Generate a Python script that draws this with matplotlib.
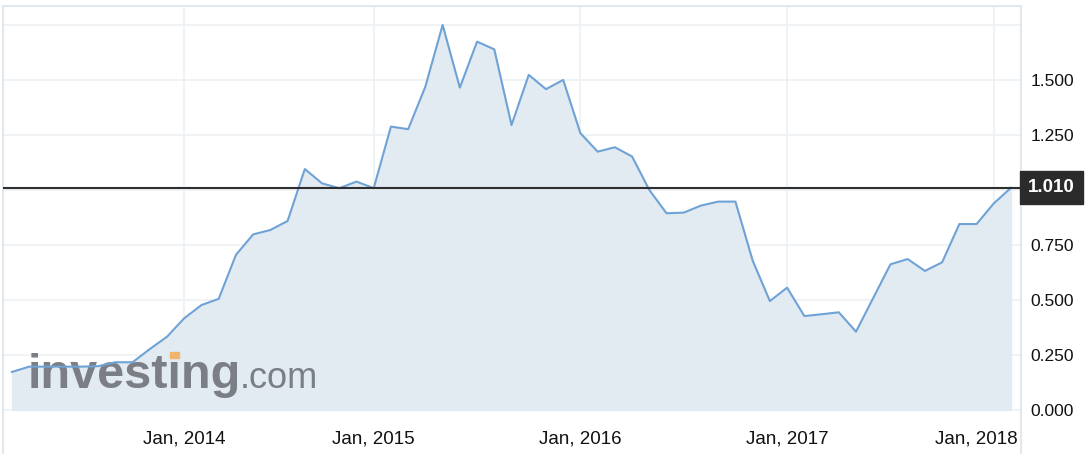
import matplotlib.pyplot as plt
import numpy as np
from matplotlib.patches import Rectangle

# monthly closes, one point per month (x is the point index)
values = [0.173, 0.197, 0.197, 0.197, 0.197, 0.199, 0.217, 0.217, 0.277, 0.333,
          0.417, 0.477, 0.505, 0.705, 0.798, 0.818, 0.859, 1.095, 1.030, 1.008,
          1.038, 1.008, 1.288, 1.276, 1.470, 1.750, 1.465, 1.674, 1.639, 1.295,
          1.523, 1.458, 1.500, 1.258, 1.174, 1.194, 1.152, 1.000, 0.894, 0.897,
          0.929, 0.947, 0.947, 0.679, 0.495, 0.556, 0.427, 0.435, 0.444, 0.356,
          0.509, 0.662, 0.686, 0.632, 0.671, 0.845, 0.845, 0.939, 1.010]
tick_idx = [10, 21, 33, 45, 57]
tick_labels = ['Jan, 2014', 'Jan, 2015', 'Jan, 2016', 'Jan, 2017', 'Jan, 2018']
y_ticks = [0.0, 0.25, 0.5, 0.75, 1.25, 1.5]
grid_levels = [0.0, 0.25, 0.5, 0.75, 1.0, 1.25, 1.5, 1.75]
last = 1.010

plt.rcParams['font.family'] = ['Liberation Sans', 'DejaVu Sans']

x = np.arange(len(values))
fig = plt.figure(figsize=(10.89, 4.54), dpi=100)
ax = fig.add_axes([3 / 1089, 0, 1018 / 1089, 448 / 454])

ax.set_xlim(-0.523, 58.58)
ax.set_ylim(-0.2, 1.836)

# grid
for g in grid_levels:
    ax.axhline(g, color='#eef1f5', lw=1.2, zorder=0)
y0_frac = (0 - -0.2) / (1.836 - -0.2)
for t in tick_idx:
    ax.axvline(t, ymin=y0_frac, ymax=1, color='#eef1f5', lw=1.2, zorder=0)

# area + line
ax.fill_between(x, 0, values, color='#e3ebf2', zorder=1)

# watermark
ax.text(0.9, 0.1, 'investing', fontsize=35, fontweight='bold', color='#7b7f85',
        ha='left', va='baseline', zorder=2)
ax.text(13.2, 0.1, '.com', fontsize=26, color='#7b7f85',
        ha='left', va='baseline', zorder=2)
ax.add_patch(Rectangle((9.2, 0.235), 0.5, 0.03, color='#f0b46a', zorder=2))

ax.plot(x, values, color='#6fa3d6', lw=1.5, zorder=3)

# last value line + label
ax.axhline(last, color='#2f2f2f', lw=1.5, zorder=4)
ax.annotate(f'{last:.3f}', xy=(1.0, last), xycoords=('axes fraction', 'data'),
            xytext=(5, 0), textcoords='offset points', ha='left', va='center',
            fontsize=13.5, fontweight='bold', color='white', annotation_clip=False,
            bbox=dict(boxstyle='square,pad=0.42', fc='#2b2b2b', ec='#2b2b2b'))

# x labels inside the frame (last one kept inside the right edge)
for t, lab in zip(tick_idx, tick_labels):
    if t == tick_idx[-1]:
        ax.text(0.997, -0.133, lab, ha='right', va='center', fontsize=13.5,
                color='#111111', transform=ax.get_yaxis_transform())
    else:
        ax.text(t, -0.133, lab, ha='center', va='center', fontsize=13.5, color='#111111')
ax.set_xticks([])

ax.yaxis.tick_right()
ax.set_yticks(y_ticks)
ax.set_yticklabels([f'{v:.3f}' for v in y_ticks])
ax.tick_params(axis='y', length=0, pad=7, labelsize=12.5, labelcolor='#111111')

for s in ['top', 'left', 'right']:
    ax.spines[s].set_color('#e3e8ef')
    ax.spines[s].set_linewidth(1.5)
ax.spines['bottom'].set_visible(False)

plt.savefig('out.png', dpi=100)
